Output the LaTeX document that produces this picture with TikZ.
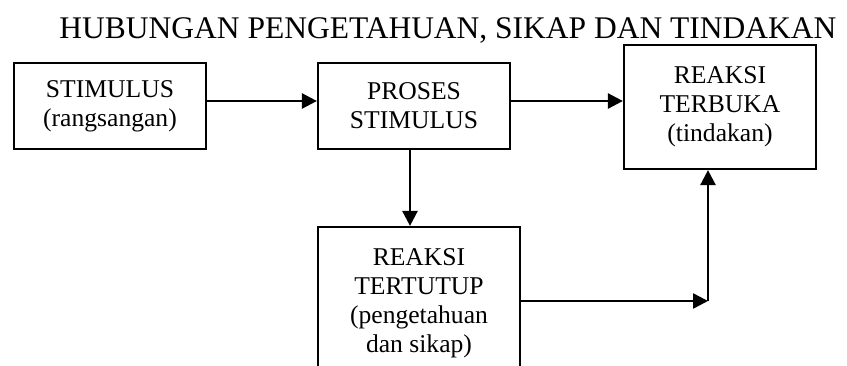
\documentclass[tikz,border=0pt]{standalone}
\usepackage{fontspec}
\setmainfont{Liberation Serif}
\usetikzlibrary{arrows.meta}
\begin{document}
\begin{tikzpicture}[x=1pt,y=-1pt,
  boxstyle/.style={draw, line width=2.2pt, rectangle, inner sep=0pt, align=center,
    font=\fontsize{25.6pt}{29pt}\selectfont},
  arr/.style={line width=2.6pt, -{Triangle[length=15pt,width=15pt]}},
  ln/.style={line width=2.6pt}
]
\clip (0,0) rectangle (847,365);
\fill[white] (0,0) rectangle (847,365);
\node[anchor=base, font=\fontsize{31.5pt}{34pt}\selectfont, inner sep=0pt] (title) at (448,38) {HUBUNGAN PENGETAHUAN, SIKAP DAN TINDAKAN};
\node[boxstyle, minimum width=192pt, minimum height=86pt] (b1) at (110,106) {STIMULUS\\(rangsangan)};
\node[boxstyle, minimum width=192pt, minimum height=86pt] (b2) at (414,106) {PROSES\\STIMULUS};
\node[boxstyle, minimum width=192pt, minimum height=124pt] (b3) at (720,107) {REAKSI\\TERBUKA\\(tindakan)};
\node[boxstyle, minimum width=202pt, minimum height=152pt] (b4) at (419,303) {REAKSI\\TERTUTUP\\(pengetahuan\\dan sikap)};
\coordinate (j) at (708,301);
\draw[arr] ([yshift=5pt]b1.east) -- ([yshift=5pt]b1.east -| b2.west);
\draw[arr] ([yshift=5pt]b2.east) -- ([yshift=5pt]b2.east -| b3.west);
\draw[arr] ([xshift=-4pt]b2.south) -- ([xshift=-4pt]b2.south |- b4.north);
\draw[arr] ([yshift=2pt]b4.east) -- ([yshift=2pt]b4.east -| j);
\draw[arr] (j) -- (j |- b3.south);
\end{tikzpicture}
\end{document}
